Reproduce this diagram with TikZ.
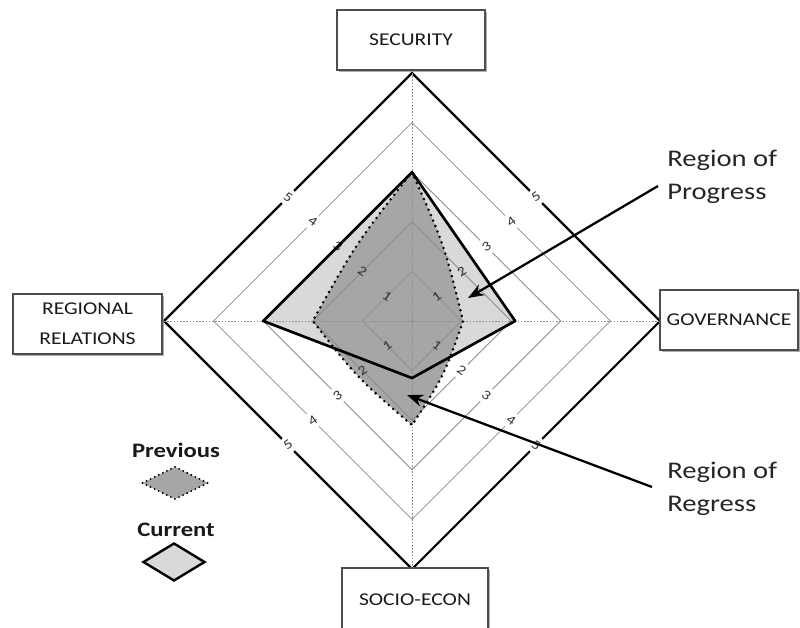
\documentclass[tikz,border=0pt]{standalone}
\usepackage{fontspec}
\setmainfont{Carlito}[FakeStretch=1.2]
\usetikzlibrary{arrows.meta,shadows,shapes.geometric}
\definecolor{curfill}{HTML}{D9D9D9}
\definecolor{prevfill}{HTML}{A6A6A6}
\definecolor{gridgray}{HTML}{8C8C8C}
\definecolor{boxline}{HTML}{4D4D4D}
\newcommand\lv{49.6}
\begin{document}
\begin{tikzpicture}[x=0.75pt,y=-0.75pt,
  catbox/.style={draw=boxline, line width=0.8pt, fill=white, minimum height=45pt,
    align=center, inner sep=2pt, font=\fontsize{13.5}{22.5}\selectfont, text=black!90,
    drop shadow={shadow xshift=1.3pt, shadow yshift=-1.3pt, fill=black!45, opacity=0.7}},
  gridline/.style={draw=gridgray, line width=0.6pt},
  outerline/.style={draw=black, line width=1.6pt, line join=miter},
  axisline/.style={draw=gridgray, line width=0.6pt, dash pattern=on 1.2pt off 1.2pt},
  lab/.style={circle, inner sep=0pt, minimum size=13pt, font=\fontsize{10}{10}\selectfont, text=black!80},
  curline/.style={draw=black, line width=2pt, line join=round},
  prevdots/.style={draw=black, line width=2.1pt, line cap=round, dash pattern=on 0pt off 4.4pt},
  regtext/.style={align=left, inner sep=0pt, font=\fontsize{17.9}{24.8}\selectfont, text=black!85},
  legtext/.style={inner sep=0pt, font=\bfseries\fontsize{15.4}{16}\selectfont, text=black!90},
  arrowline/.style={draw=black, line width=1.7pt, -{Stealth[length=12pt,width=9pt]}}
]
\useasboundingbox (0,0) rectangle (800,628);

\begin{scope}[shift={(412,321)}]
  % data values on the four axes
  \coordinate (cT) at (0,{-3*\lv});
  \coordinate (cR) at ({2.08*\lv},0);
  \coordinate (cB) at (0,{1.15*\lv});
  \coordinate (cL) at ({-3*\lv},0);
  \coordinate (pT) at (0,{-3*\lv});
  \coordinate (pR) at ({1.03*\lv},0);
  \coordinate (pB) at (0,{2.1*\lv});
  \coordinate (pL) at ({-2*\lv},0);
  % slight outward swell of the earlier outline
  \coordinate (pc1) at (32.1,-76.7);
  \coordinate (pc2) at (31.8,55.2);
  \coordinate (pc3) at (-54.7,56.9);
  \coordinate (pc4) at (-55.4,-78.3);

  % filled areas
  \fill[curfill] (cT) -- (cR) -- (cB) -- (cL) -- cycle;
  \fill[prevfill] (pT) .. controls (pc1) .. (pR) .. controls (pc2) .. (pB)
    .. controls (pc3) .. (pL) .. controls (pc4) .. (pT) -- cycle;

  % level rings
  \foreach \k in {1,...,4}
    \draw[gridline] (0,{-\k*\lv}) -- ({\k*\lv},0) -- (0,{\k*\lv}) -- ({-\k*\lv},0) -- cycle;
  \draw[outerline] (0,{-5*\lv}) -- ({5*\lv},0) -- (0,{5*\lv}) -- ({-5*\lv},0) -- cycle;

  % axes
  \coordinate (o) at (0,0);
  \draw[axisline] (o) -- (0,{-5*\lv});
  \draw[axisline] (o) -- ({5*\lv},0);
  \draw[axisline] (o) -- (0,{5*\lv});
  \draw[axisline] (o) -- ({-5*\lv},0);

  % scale numbers on each side (white disc where they sit on blank ground)
  \foreach \k/\bg in {1/none,2/none,3/none,4/white,5/white}
    \node[lab, fill=\bg, rotate=-35] (ul\k) at ({-\k*\lv/2},{-\k*\lv/2}) {\k};
  \foreach \k/\bg in {1/none,2/none,3/white,4/white,5/white}
    \node[lab, fill=\bg, rotate=35] (ur\k) at ({\k*\lv/2},{-\k*\lv/2}) {\k};
  \foreach \k/\bg in {1/none,2/white,3/white,4/white,5/white}
    \node[lab, fill=\bg, rotate=-35] (lr\k) at ({\k*\lv/2},{\k*\lv/2}) {\k};
  \foreach \k/\bg in {1/none,2/none,3/white,4/white,5/white}
    \node[lab, fill=\bg, rotate=35] (ll\k) at ({-\k*\lv/2},{\k*\lv/2}) {\k};

  % outlines
  \draw[curline] (cT) -- (cR) -- (cB) -- (cL) -- cycle;
  \draw[prevdots] (pT) .. controls (pc1) .. (pR) .. controls (pc2) .. (pB)
    .. controls (pc3) .. (pL) .. controls (pc4) .. (pT);
\end{scope}

% category boxes
\node[catbox, minimum width=111pt] (sec) at (411,40) {SECURITY};
\node[catbox, minimum width=111.75pt] (reg) at (87.5,324) {REGIONAL\\RELATIONS};
\node[catbox, minimum width=103.5pt] (gov) at (729,320) {GOVERNANCE};
\node[catbox, minimum width=109.5pt, minimum height=48pt] (soc) at (415,600) {SOCIO-ECON};

% legend
\node[legtext] (legprev) at (176,450) {Previous};
\node[diamond, aspect=2, minimum width=49.5pt, minimum height=24.75pt, inner sep=0pt,
  fill=prevfill, draw=black, line width=1.6pt, line cap=round, dash pattern=on 0pt off 3.4pt]
  (keyprev) at (175,483) {};
\node[legtext] (legcur) at (176,530) {Current};
\node[diamond, aspect=1.6, minimum width=46.5pt, minimum height=28.5pt, inner sep=0pt,
  fill=curfill, draw=black, line width=1.8pt] (keycur) at (174,562) {};

% annotations
\node[regtext, anchor=north west] (prog) at (667,150) {Region of\\Progress};
\node[regtext, anchor=north west] (regr) at (667,462) {Region of\\Regress};
\coordinate (progtail) at (658,186);
\coordinate (progtip) at (468,298);
\coordinate (regrtail) at (652,487);
\coordinate (regrtip) at (407,395);
\draw[arrowline] (progtail) -- (progtip);
\draw[arrowline] (regrtail) -- (regrtip);
\end{tikzpicture}
\end{document}
